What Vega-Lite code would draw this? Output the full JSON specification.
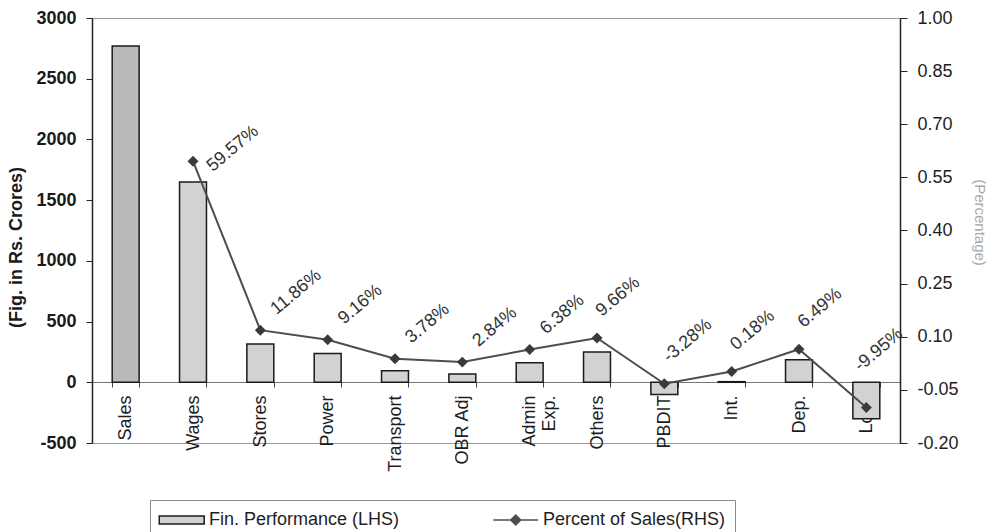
{
  "$schema": "https://vega.github.io/schema/vega-lite/v6.json",
  "width": 808,
  "height": 425,
  "autosize": {"type": "none"},
  "padding": {"left": 92, "top": 18, "right": 100, "bottom": 89},
  "background": "white",
  "config": {
    "view": {"stroke": "#9a9a9a", "strokeWidth": 1},
    "font": "Liberation Sans",
    "locale": {"number": {"decimal": ".", "thousands": ",", "grouping": [3], "currency": ["$", ""], "minus": "-"}}
  },
  "data": {
    "values": [
      {"category": "Sales", "value": 2770, "pct": null},
      {"category": "Wages", "value": 1650, "pct": 0.5957},
      {"category": "Stores", "value": 315, "pct": 0.1186},
      {"category": "Power", "value": 238, "pct": 0.0916},
      {"category": "Transport", "value": 95, "pct": 0.0378},
      {"category": "OBR Adj", "value": 68, "pct": 0.0284},
      {"category": "Admin Exp.", "value": 160, "pct": 0.0638},
      {"category": "Others", "value": 250, "pct": 0.0966},
      {"category": "PBDIT", "value": -100, "pct": -0.0328},
      {"category": "Int.", "value": 5, "pct": 0.0018},
      {"category": "Dep.", "value": 185, "pct": 0.0649},
      {"category": "Loss", "value": -300, "pct": -0.0995}
    ]
  },
  "encoding": {
    "x": {
      "field": "category",
      "type": "nominal",
      "sort": null,
      "scale": {"paddingInner": 0.6, "paddingOuter": 0.3},
      "axis": {
        "title": null,
        "offset": -61,
        "labelAngle": -90,
        "labelFont": "Liberation Sans",
        "labelFontSize": 18,
        "labelColor": "#1e1e1e",
        "labelPadding": 8,
        "labelExpr": "datum.value === 'Admin Exp.' ? ['Admin', 'Exp.'] : datum.label",
        "tickBand": "extent",
        "tickSize": 5,
        "tickColor": "#444",
        "domainColor": "#777",
        "domainWidth": 1,
        "grid": false
      }
    }
  },
  "layer": [
    {
      "mark": {"type": "bar", "stroke": "#1a1a1a", "strokeWidth": 1.5},
      "encoding": {
        "y": {
          "field": "value",
          "type": "quantitative",
          "scale": {"domain": [-500, 3000], "nice": false, "zero": false},
          "axis": {
            "orient": "left",
            "values": [-500, 0, 500, 1000, 1500, 2000, 2500, 3000],
            "format": "d",
            "grid": false,
            "labelFont": "Liberation Sans",
            "labelFontSize": 18,
            "labelFontWeight": "bold",
            "labelColor": "#1a1a1a",
            "labelPadding": 10,
            "tickSize": 6,
            "tickColor": "#222",
            "domainColor": "#222",
            "domainWidth": 1.5,
            "title": "(Fig. in Rs. Crores)",
            "titleFont": "Liberation Sans",
            "titleFontSize": 18,
            "titleFontWeight": "bold",
            "titleColor": "#1a1a1a",
            "titleAngle": -90,
            "titleX": -76,
            "titleY": 229,
            "titleAlign": "center",
            "titleBaseline": "middle"
          }
        },
        "color": {
          "condition": {"test": "datum.category === 'Sales'", "value": "#b9b9b9"},
          "datum": "Fin. Performance (LHS)",
          "type": "nominal",
          "scale": {"domain": ["Fin. Performance (LHS)", "Percent of Sales(RHS)"], "range": ["#d2d2d2", "#4d4d4d"]},
          "legend": {
            "orient": "none",
            "legendX": 58,
            "legendY": 482,
            "direction": "horizontal",
            "columns": 2,
            "columnPadding": 90,
            "title": null,
            "padding": 9,
            "strokeColor": "#8a8a8a",
            "fillColor": "white",
            "labelFont": "Liberation Sans",
            "labelFontSize": 18,
            "labelColor": "#1e1e1e",
            "labelOffset": 28,
            "labelLimit": 0,
            "symbolSize": 400,
            "symbolStrokeWidth": 1.5,
            "encoding": {
              "symbols": {
                "shape": {"condition": {"test": "datum.value === 'Fin. Performance (LHS)'", "value": "M-1.07,-0.4H3.42V0.4H-1.07Z"}, "value": "M-1.07,0H3.42M0.67,0L1.17,-0.5L1.67,0L1.17,0.5Z"},
                "fill": {"condition": {"test": "datum.value === 'Fin. Performance (LHS)'", "value": "#d2d2d2"}, "value": "#3a3a3a"},
                "stroke": {"condition": {"test": "datum.value === 'Fin. Performance (LHS)'", "value": "#1a1a1a"}, "value": "#4d4d4d"},
                "strokeWidth": {"value": 1.5},
                "opacity": {"value": 1}
              }
            }
          }
        }
      }
    },
    {
      "transform": [{"filter": "datum.pct != null"}],
      "encoding": {
        "y": {
          "field": "pct",
          "type": "quantitative",
          "scale": {"domain": [-0.2, 1.0], "nice": false, "zero": false},
          "axis": {
            "orient": "right",
            "values": [-0.2, -0.05, 0.1, 0.25, 0.4, 0.55, 0.7, 0.85, 1.0],
            "format": ".2f",
            "grid": false,
            "labelFont": "Liberation Sans",
            "labelFontSize": 18,
            "labelColor": "#1e1e1e",
            "labelPadding": 10,
            "tickSize": 7,
            "tickColor": "#222",
            "domainColor": "#222",
            "domainWidth": 1.5,
            "title": "(Percentage)",
            "titleFont": "Liberation Sans",
            "titleFontSize": 15,
            "titleFontWeight": "normal",
            "titleColor": "#a8a8a8",
            "titleAngle": 90,
            "titleX": 79,
            "titleY": 204,
            "titleAlign": "center",
            "titleBaseline": "middle"
          }
        }
      },
      "layer": [
        {
          "mark": {"type": "line", "strokeWidth": 2, "stroke": "#4d4d4d"},
          "encoding": {}
        },
        {
          "mark": {"type": "point", "shape": "diamond", "filled": true, "size": 120, "color": "#3a3a3a", "opacity": 1}
        },
        {
          "transform": [{"filter": {"field": "category", "oneOf": ["Stores", "Power", "Transport", "OBR Adj", "Admin Exp."]}}],
          "mark": {"type": "text", "angle": -40, "align": "left", "baseline": "alphabetic", "dx": 22, "dy": -1, "fontSize": 18, "font": "Liberation Sans", "color": "#333"},
          "encoding": {"text": {"field": "pct", "type": "quantitative", "format": ".2%"}}
        },
        {
          "transform": [{"filter": {"field": "category", "oneOf": ["Others", "PBDIT", "Int.", "Dep."]}}],
          "mark": {"type": "text", "angle": -40, "align": "left", "baseline": "alphabetic", "dx": 17, "dy": -13, "fontSize": 18, "font": "Liberation Sans", "color": "#333"},
          "encoding": {"text": {"field": "pct", "type": "quantitative", "format": ".2%"}}
        },
        {
          "transform": [{"filter": "datum.category === 'Loss'"}],
          "mark": {"type": "text", "angle": -40, "align": "left", "baseline": "alphabetic", "dx": 18, "dy": -31, "fontSize": 18, "font": "Liberation Sans", "color": "#333"},
          "encoding": {"text": {"field": "pct", "type": "quantitative", "format": ".2%"}}
        },
        {
          "transform": [{"filter": "datum.category === 'Wages'"}],
          "mark": {"type": "text", "angle": -40, "align": "left", "baseline": "alphabetic", "dx": 8, "dy": 21, "fontSize": 18, "font": "Liberation Sans", "color": "#333"},
          "encoding": {"text": {"field": "pct", "type": "quantitative", "format": ".2%"}}
        }
      ]
    }
  ],
  "resolve": {"scale": {"y": "independent"}, "axis": {"y": "independent"}}
}
